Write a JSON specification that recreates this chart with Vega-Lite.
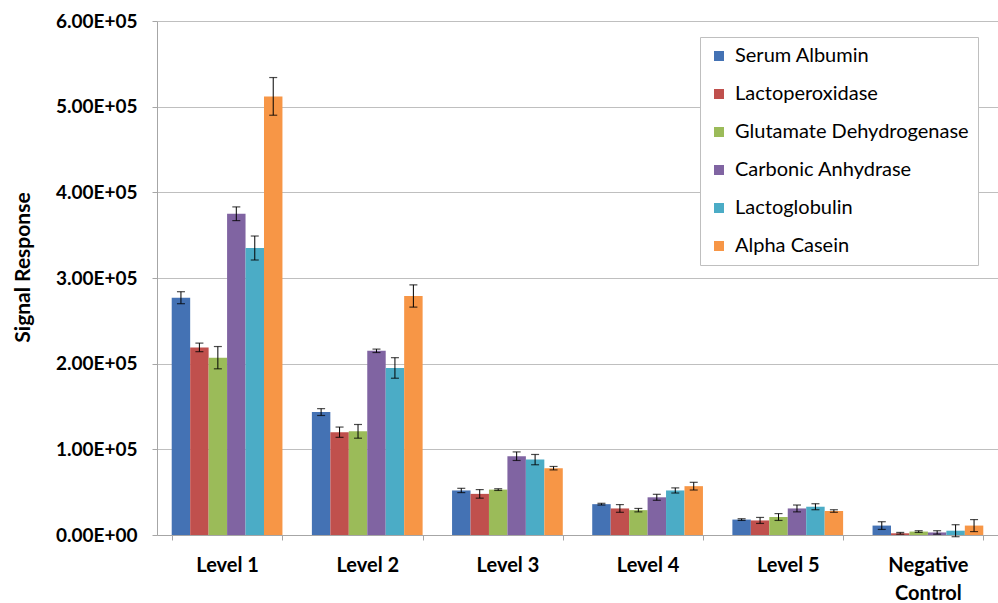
{
  "$schema": "https://vega.github.io/schema/vega-lite/v6.json",
  "width": 841,
  "height": 514,
  "autosize": {"type": "none"},
  "padding": {"left": 157, "top": 21, "right": 0, "bottom": 68},
  "background": "white",
  "config": {
    "view": {"stroke": null},
    "font": "Lato"
  },
  "data": {
    "values": [
      {"level": "Level 1", "protein": "Serum Albumin", "value": 277000, "lo": 270000, "hi": 284000},
      {"level": "Level 1", "protein": "Lactoperoxidase", "value": 219000, "lo": 214000, "hi": 224000},
      {"level": "Level 1", "protein": "Glutamate Dehydrogenase", "value": 207000, "lo": 194000, "hi": 220000},
      {"level": "Level 1", "protein": "Carbonic Anhydrase", "value": 375000, "lo": 367000, "hi": 383000},
      {"level": "Level 1", "protein": "Lactoglobulin", "value": 335000, "lo": 321000, "hi": 349000},
      {"level": "Level 1", "protein": "Alpha Casein", "value": 512000, "lo": 490000, "hi": 534000},
      {"level": "Level 2", "protein": "Serum Albumin", "value": 143500, "lo": 139500, "hi": 147500},
      {"level": "Level 2", "protein": "Lactoperoxidase", "value": 120000, "lo": 114000, "hi": 126000},
      {"level": "Level 2", "protein": "Glutamate Dehydrogenase", "value": 121000, "lo": 113000, "hi": 129000},
      {"level": "Level 2", "protein": "Carbonic Anhydrase", "value": 215000, "lo": 213000, "hi": 217000},
      {"level": "Level 2", "protein": "Lactoglobulin", "value": 195000, "lo": 183000, "hi": 207000},
      {"level": "Level 2", "protein": "Alpha Casein", "value": 279000, "lo": 266000, "hi": 292000},
      {"level": "Level 3", "protein": "Serum Albumin", "value": 52000, "lo": 49500, "hi": 54500},
      {"level": "Level 3", "protein": "Lactoperoxidase", "value": 48000, "lo": 43000, "hi": 53000},
      {"level": "Level 3", "protein": "Glutamate Dehydrogenase", "value": 53000, "lo": 52000, "hi": 54000},
      {"level": "Level 3", "protein": "Carbonic Anhydrase", "value": 92000, "lo": 87000, "hi": 97000},
      {"level": "Level 3", "protein": "Lactoglobulin", "value": 88000, "lo": 82000, "hi": 94000},
      {"level": "Level 3", "protein": "Alpha Casein", "value": 78000, "lo": 76000, "hi": 80000},
      {"level": "Level 4", "protein": "Serum Albumin", "value": 36000, "lo": 35000, "hi": 37000},
      {"level": "Level 4", "protein": "Lactoperoxidase", "value": 31000, "lo": 26500, "hi": 35500},
      {"level": "Level 4", "protein": "Glutamate Dehydrogenase", "value": 29000, "lo": 27000, "hi": 31000},
      {"level": "Level 4", "protein": "Carbonic Anhydrase", "value": 44000, "lo": 40500, "hi": 47500},
      {"level": "Level 4", "protein": "Lactoglobulin", "value": 52000, "lo": 49000, "hi": 55000},
      {"level": "Level 4", "protein": "Alpha Casein", "value": 57000, "lo": 52500, "hi": 61500},
      {"level": "Level 5", "protein": "Serum Albumin", "value": 18000, "lo": 17000, "hi": 19000},
      {"level": "Level 5", "protein": "Lactoperoxidase", "value": 17000, "lo": 13500, "hi": 20500},
      {"level": "Level 5", "protein": "Glutamate Dehydrogenase", "value": 21000, "lo": 17000, "hi": 25000},
      {"level": "Level 5", "protein": "Carbonic Anhydrase", "value": 31000, "lo": 27000, "hi": 35000},
      {"level": "Level 5", "protein": "Lactoglobulin", "value": 33000, "lo": 29500, "hi": 36500},
      {"level": "Level 5", "protein": "Alpha Casein", "value": 28000, "lo": 26500, "hi": 29500},
      {"level": "Negative Control", "protein": "Serum Albumin", "value": 11000, "lo": 6500, "hi": 15500},
      {"level": "Negative Control", "protein": "Lactoperoxidase", "value": 2000, "lo": 1000, "hi": 3000},
      {"level": "Negative Control", "protein": "Glutamate Dehydrogenase", "value": 4000, "lo": 3000, "hi": 5000},
      {"level": "Negative Control", "protein": "Carbonic Anhydrase", "value": 3000, "lo": 1000, "hi": 5000},
      {"level": "Negative Control", "protein": "Lactoglobulin", "value": 5000, "lo": -2000, "hi": 12000},
      {"level": "Negative Control", "protein": "Alpha Casein", "value": 11000, "lo": 4000, "hi": 18000}
    ]
  },
  "encoding": {
    "x": {
      "field": "level",
      "type": "nominal",
      "scale": {"paddingInner": 0.21, "paddingOuter": 0.105},
      "title": null,
      "axis": {
        "labelExpr": "datum.label == 'Negative Control' ? split(datum.label, ' ') : datum.label",
        "labelFont": "Lato",
        "labelFontSize": 20,
        "labelFontWeight": "bold",
        "labelColor": "#000000",
        "labelAngle": 0,
        "labelPadding": 15,
        "labelLineHeight": 28,
        "ticks": true,
        "tickBand": "extent",
        "tickSize": 5,
        "tickColor": "#a6a6a6",
        "domainColor": "#a6a6a6",
        "grid": false
      }
    },
    "xOffset": {
      "field": "protein",
      "type": "nominal",
      "scale": {"domain": ["Serum Albumin", "Lactoperoxidase", "Glutamate Dehydrogenase", "Carbonic Anhydrase", "Lactoglobulin", "Alpha Casein"], "paddingInner": 0, "paddingOuter": 0}
    }
  },
  "layer": [
    {
      "mark": {"type": "bar"},
      "encoding": {
        "y": {
          "field": "value",
          "type": "quantitative",
          "scale": {"domain": [0, 600000], "nice": false},
          "axis": {
            "title": "Signal Response",
            "titleFont": "Lato",
            "titleFontSize": 21,
            "titleFontWeight": "bold",
            "titleColor": "#000000",
            "titleAngle": 270,
            "titleX": -134,
            "titleY": 246,
            "titleAlign": "center",
            "titleBaseline": "middle",
            "values": [0, 100000, 200000, 300000, 400000, 500000, 600000],
            "labelExpr": "replace(upper(format(datum.value, '.2e')), 'E+', 'E+0')",
            "labelFont": "Lato",
            "labelFontSize": 19,
            "labelFontWeight": "bold",
            "labelColor": "#000000",
            "labelPadding": 15,
            "tickSize": 5,
            "tickColor": "#a6a6a6",
            "domainColor": "#a6a6a6",
            "grid": true,
            "gridColor": "#bfbfbf",
            "gridWidth": 1
          }
        },
        "color": {
          "field": "protein",
          "type": "nominal",
          "scale": {
            "domain": ["Serum Albumin", "Lactoperoxidase", "Glutamate Dehydrogenase", "Carbonic Anhydrase", "Lactoglobulin", "Alpha Casein"],
            "range": ["#4472b4", "#c0504d", "#9bbb59", "#8064a2", "#4bacc6", "#f79646"]
          },
          "legend": {
            "title": null,
            "orient": "none",
            "legendX": 543,
            "legendY": 16,
            "padding": 9,
            "fillColor": "white",
            "strokeColor": "#bfbfbf",
            "symbolType": "square",
            "symbolSize": 100,
            "symbolStrokeWidth": 0,
            "labelFont": "Lato",
            "labelFontSize": 20,
            "labelColor": "#000000",
            "labelOffset": 6,
            "rowPadding": 18,
            "labelLimit": 400
          }
        }
      }
    },
    {
      "mark": {"type": "rule", "color": "#000000", "strokeWidth": 1},
      "encoding": {
        "y": {"field": "lo", "type": "quantitative"},
        "y2": {"field": "hi"}
      }
    },
    {
      "mark": {"type": "tick", "color": "#000000", "thickness": 1.2, "size": 8, "orient": "horizontal"},
      "encoding": {
        "y": {"field": "lo", "type": "quantitative"}
      }
    },
    {
      "mark": {"type": "tick", "color": "#000000", "thickness": 1.2, "size": 8, "orient": "horizontal"},
      "encoding": {
        "y": {"field": "hi", "type": "quantitative"}
      }
    }
  ]
}
